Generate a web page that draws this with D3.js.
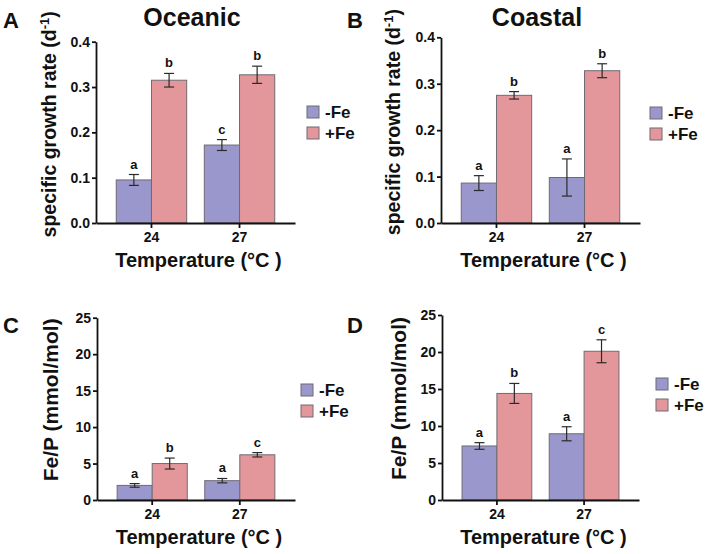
<!DOCTYPE html>
<html>
<head>
<meta charset="utf-8">
<script src="https://cdn.jsdelivr.net/npm/d3@7"></script>
<style>
  body { margin: 0; background: #fff; }
  text { font-family: "Liberation Sans", Arial, sans-serif; font-weight: bold; fill: #111; }
</style>
</head>
<body>
<svg id="chart" width="709" height="554"></svg>
<script>
var temperatures = ["24", "27"];
var treatments = ["-Fe", "+Fe"];

// rows: -Fe, +Fe ; columns: 24, 27 °C
var growthOceanicMean = [[0.095, 0.172], [0.315, 0.327]];
var growthOceanicErr = [[0.012, 0.012], [0.015, 0.019]];
var growthOceanicLetters = [["a", "c"], ["b", "b"]];

var growthCoastalMean = [[0.086, 0.098], [0.275, 0.328]];
var growthCoastalErr = [[0.016, 0.040], [0.008, 0.015]];
var growthCoastalLetters = [["a", "a"], ["b", "b"]];

var fePOceanicMean = [[2.0, 2.65], [5.0, 6.2]];
var fePOceanicErr = [[0.25, 0.3], [0.75, 0.3]];
var fePOceanicLetters = [["a", "a"], ["b", "c"]];

var fePCoastalMean = [[7.3, 8.95], [14.4, 20.1]];
var fePCoastalErr = [[0.45, 0.95], [1.35, 1.55]];
var fePCoastalLetters = [["a", "a"], ["b", "c"]];

var growthTicks = [0, 0.1, 0.2, 0.3, 0.4];
var fePTicks = [0, 5, 10, 15, 20, 25];

var colors = {"-Fe": "#9a97cc", "+Fe": "#e4979b"};

var svg = d3.select('#chart');

var panels = [
  {letter: "A", lx: 3, ly: 28, title: "Oceanic", tx: 192, left: 96, right: 295, top: 41.7, bottom: 223,
   yMax: 0.4, ticks: growthTicks, fmt: d3.format(".1f"), mean: growthOceanicMean, err: growthOceanicErr,
   letters: growthOceanicLetters, ylab: "growth", ylx: 56, legX: 307, legY: 106},
  {letter: "B", lx: 347, ly: 28, title: "Coastal", tx: 537, left: 441, right: 640, top: 37.3, bottom: 223,
   yMax: 0.4, ticks: growthTicks, fmt: d3.format(".1f"), mean: growthCoastalMean, err: growthCoastalErr,
   letters: growthCoastalLetters, ylab: "growth", ylx: 400, legX: 650, legY: 107},
  {letter: "C", lx: 3, ly: 333, title: null, left: 97, right: 295, top: 317.7, bottom: 500,
   yMax: 25, ticks: fePTicks, fmt: d3.format("d"), mean: fePOceanicMean, err: fePOceanicErr,
   letters: fePOceanicLetters, ylab: "feP", ylx: 58, legX: 301, legY: 384},
  {letter: "D", lx: 347, ly: 333, title: null, left: 442, right: 639, top: 315, bottom: 500,
   yMax: 25, ticks: fePTicks, fmt: d3.format("d"), mean: fePCoastalMean, err: fePCoastalErr,
   letters: fePCoastalLetters, ylab: "feP", ylx: 406, legX: 656, legY: 378}
];

panels.forEach(drawPanel);

function drawPanel(p) {
  var g = svg.append('g');

  var x0 = d3.scaleBand().domain(temperatures).range([p.left, p.right])
      .paddingInner(0.2).paddingOuter(0.23);
  var x1 = d3.scaleBand().domain(treatments).range([0, x0.bandwidth()]);
  var y = d3.scaleLinear().domain([0, p.yMax]).range([p.bottom, p.top]);

  var rows = [];
  treatments.forEach(function(t, i) {
    temperatures.forEach(function(temp, j) {
      rows.push({t: t, temp: temp, mean: p.mean[i][j], err: p.err[i][j], letter: p.letters[i][j]});
    });
  });

  g.selectAll('.bar').data(rows).enter().append('rect')
    .attr('class', 'bar')
    .attr('x', function(d) { return x0(d.temp) + x1(d.t); })
    .attr('width', x1.bandwidth())
    .attr('y', function(d) { return y(d.mean); })
    .attr('height', function(d) { return y(0) - y(d.mean); })
    .style('fill', function(d) { return colors[d.t]; })
    .style('stroke', '#6f6a72')
    .style('stroke-width', 1);

  // error bars
  var eb = g.selectAll('.err').data(rows).enter().append('g').attr('class', 'err')
    .attr('transform', function(d) { return 'translate(' + (x0(d.temp) + x1(d.t) + x1.bandwidth() / 2) + ',0)'; })
    .style('stroke', '#2a2a2a').style('stroke-width', 1.2);
  eb.append('line').attr('x1', 0).attr('x2', 0)
    .attr('y1', function(d) { return y(d.mean - d.err); })
    .attr('y2', function(d) { return y(d.mean + d.err); });
  eb.append('line').attr('x1', -5).attr('x2', 5)
    .attr('y1', function(d) { return y(d.mean + d.err); })
    .attr('y2', function(d) { return y(d.mean + d.err); });
  eb.append('line').attr('x1', -5).attr('x2', 5)
    .attr('y1', function(d) { return y(d.mean - d.err); })
    .attr('y2', function(d) { return y(d.mean - d.err); });

  g.selectAll('.sig').data(rows).enter().append('text')
    .attr('class', 'sig')
    .attr('x', function(d) { return x0(d.temp) + x1(d.t) + x1.bandwidth() / 2; })
    .attr('y', function(d) { return y(d.mean + d.err) - 6; })
    .attr('text-anchor', 'middle')
    .style('font-size', '13px')
    .text(function(d) { return d.letter; });

  var ya = g.append('g').attr('transform', 'translate(' + p.left + ',0)')
    .call(d3.axisLeft(y).tickValues(p.ticks).tickFormat(p.fmt).tickSize(4).tickSizeOuter(0).tickPadding(2));
  var xa = g.append('g').attr('transform', 'translate(0,' + p.bottom + ')')
    .call(d3.axisBottom(x0).tickSize(5).tickSizeOuter(0).tickPadding(4));
  [ya, xa].forEach(function(a) {
    a.attr('font-family', null).attr('font-size', null);
    a.selectAll('path, line').style('stroke', '#111').style('stroke-width', 1.8);
    a.selectAll('text').style('font-size', '14px');
  });

  g.append('text')
    .attr('x', (p.left + p.right) / 2 + 3).attr('y', p.bottom + 44)
    .attr('text-anchor', 'middle').style('font-size', '20px')
    .text('Temperature (°C )');

  var yl = g.append('text')
    .attr('transform', 'translate(' + p.ylx + ',' + ((p.top + p.bottom) / 2 + (p.ylab === 'growth' ? -8 : -9)) + ') rotate(-90)')
    .attr('text-anchor', 'middle');
  if (p.ylab === 'growth') {
    yl.style('font-size', '19.5px');
    yl.append('tspan').text('specific growth rate (d');
    yl.append('tspan').attr('dy', -7).style('font-size', '13px').text('-1');
    yl.append('tspan').attr('dy', 7).text(')');
  } else {
    yl.style('font-size', '21px').text('Fe/P (mmol/mol)');
  }

  g.append('text').attr('x', p.lx).attr('y', p.ly).style('font-size', '22px').text(p.letter);
  if (p.title) {
    g.append('text').attr('x', p.tx).attr('y', 26).attr('text-anchor', 'middle')
      .style('font-size', '25px').text(p.title);
  }

  var leg = g.selectAll('.leg').data(treatments).enter().append('g')
    .attr('transform', function(d, i) { return 'translate(' + p.legX + ',' + (p.legY + i * 21) + ')'; });
  leg.append('rect').attr('width', 12).attr('height', 12)
    .style('fill', function(d) { return colors[d]; })
    .style('stroke', '#6f6a72').style('stroke-width', 1);
  leg.append('text').attr('x', 18).attr('y', 12).style('font-size', '17px').text(function(d) { return d; });
}
</script>
</body>
</html>
